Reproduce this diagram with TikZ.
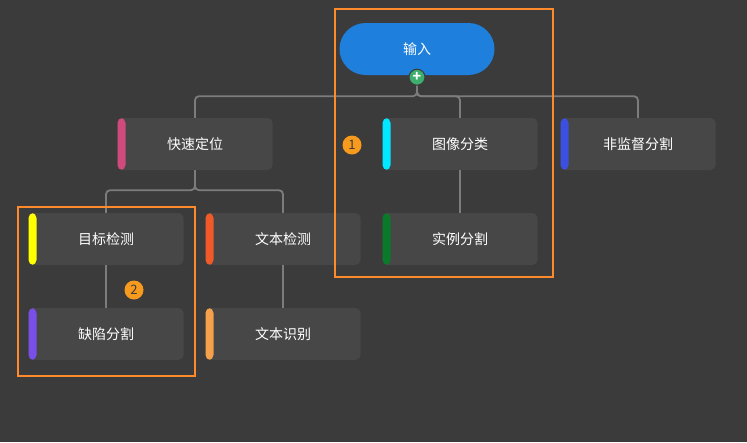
\documentclass[tikz,border=0pt]{standalone}
\usepackage{fontspec}
\setmainfont{Noto Sans CJK SC}
\definecolor{bg}{HTML}{3B3B3B}
\definecolor{boxfill}{HTML}{474747}
\definecolor{link}{HTML}{7C7C7C}
\definecolor{mark}{HTML}{FF8A2B}
\definecolor{rootblue}{HTML}{1E7FDC}
\definecolor{plusgreen}{HTML}{3DAE6E}
\definecolor{barpink}{HTML}{D04A7E}
\definecolor{barcyan}{HTML}{00E8FF}
\definecolor{barblue}{HTML}{3B4FE0}
\definecolor{baryellow}{HTML}{FFFF00}
\definecolor{barred}{HTML}{F05A28}
\definecolor{bargreen}{HTML}{0A7A2A}
\definecolor{barpurple}{HTML}{7A4FE8}
\definecolor{barorange}{HTML}{F5A04A}
\definecolor{badgeorange}{HTML}{F79A1E}
\tikzset{
  topic/.style={draw=none,fill=boxfill,rounded corners=5pt,minimum width=155pt,minimum height=52pt,
    text=white,font=\fontsize{14}{16}\selectfont,
    path picture={\fill[#1] (path picture bounding box.north west) rectangle ([xshift=8pt]path picture bounding box.south west);}},
  edge/.style={draw=link,line width=1.8pt,rounded corners=4pt},
  badge/.style={circle,fill=badgeorange,text=bg,inner sep=0pt,minimum size=19pt,font=\fontsize{13}{13}\selectfont},
  zone/.style={draw=mark,line width=2.8pt}
}
\begin{document}
\begin{tikzpicture}[x=1pt,y=-1pt]
\fill[bg] (0,0) rectangle (747,442);
\useasboundingbox (0,0) rectangle (747,442);
% root
\node[fill=rootblue,rounded corners=26pt,minimum width=155pt,minimum height=52pt,text=white,font=\fontsize{14}{16}\selectfont] (root) at (417,49) {输入};
% level one
\node[topic=barpink] (locate) at (195,144) {快速定位};
\node[topic=barcyan] (classify) at (460,144) {图像分类};
\node[topic=barblue] (unsup) at (638,144) {非监督分割};
% level two
\node[topic=baryellow] (detect) at (106,239) {目标检测};
\node[topic=barred] (textdet) at (283,239) {文本检测};
\node[topic=bargreen] (instance) at (460,239) {实例分割};
\node[topic=barpurple] (defect) at (106,334) {缺陷分割};
\node[topic=barorange] (textrec) at (283,334) {文本识别};
% links
\draw[edge] (root.south) -- ++(0,21) -| (locate.north);
\draw[edge] (root.south) -- ++(0,21) -| (unsup.north);
\draw[edge] (root.south) -- ++(0,21) -| (classify.north);
\draw[edge] (locate.south) -- ++(0,20) -| (detect.north);
\draw[edge] (locate.south) -- ++(0,20) -| (textdet.north);
\draw[edge] (detect) -- (defect);
\draw[edge] (textdet) -- (textrec);
\draw[edge] (classify) -- (instance);
\node[circle,fill=plusgreen,draw=bg,line width=1pt,minimum size=16pt,inner sep=0pt,text=white,font=\bfseries\fontsize{14}{14}\selectfont] (plus) at ([yshift=-2pt]root.south) {+};
% groups
\draw[zone] (335,9) rectangle (553,277);
\draw[zone] (18,207) rectangle (195,376);
\node[badge] (one) at (352,145) {1};
\node[badge] (two) at (134,290) {2};
\end{tikzpicture}
\end{document}
